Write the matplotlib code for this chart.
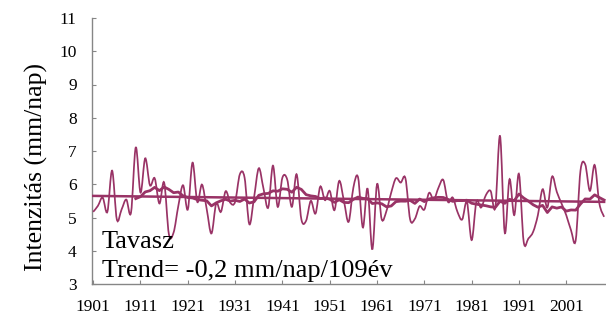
import matplotlib
matplotlib.use("Agg")
import matplotlib.pyplot as plt
from matplotlib.path import Path
from matplotlib.patches import PathPatch
import numpy as np
import pandas as pd

plt.rcParams['font.family'] = ['Liberation Serif', 'DejaVu Serif']

years = list(range(1901, 2010))
values = [
    5.17, 5.35, 5.60, 5.17, 6.41, 4.94, 5.24, 5.54, 5.15, 7.11,   # 1901-1910
    5.75, 6.78, 5.97, 6.18, 5.42, 6.05, 4.50, 4.55, 5.35, 5.97,   # 1911-1920
    5.24, 6.65, 5.47, 5.99, 5.25, 4.52, 5.42, 5.17, 5.79, 5.44,   # 1921-1930
    5.47, 6.30, 6.20, 4.80, 5.60, 6.48, 5.87, 5.30, 6.56, 5.32,   # 1931-1940
    6.20, 6.15, 5.32, 6.30, 4.95, 4.90, 5.50, 5.12, 5.93, 5.52,   # 1941-1950
    5.80, 5.22, 6.10, 5.50, 4.87, 5.90, 6.20, 4.70, 5.87, 4.04,   # 1951-1960
    6.00, 4.94, 5.20, 5.75, 6.18, 6.05, 6.18, 4.94, 4.96, 5.34,   # 1961-1970
    5.24, 5.74, 5.54, 5.90, 6.13, 5.47, 5.60, 5.17, 4.94, 5.47,   # 1971-1980
    4.32, 5.47, 5.30, 5.67, 5.80, 5.30, 7.45, 4.54, 6.15, 5.07,   # 1981-1990
    6.31, 4.27, 4.37, 4.57, 5.07, 5.85, 5.30, 6.23, 5.77, 5.42,   # 1991-2000
    5.07, 4.62, 4.32, 6.40, 6.60, 5.80, 6.58, 5.42, 5.02,         # 2001-2009
]
ma_window = 10
trend_years = [1901, 2009]
trend_values = [5.65, 5.47]
xtick_years = list(range(1901, 2002, 10))
yticks = list(range(3, 12))
season_label = "Tavasz"
trend_label = "Trend= -0,2 mm/nap/109év"
ylabel = "Intenzitás (mm/nap)"

color = '#993366'
axis_gray = '#868686'


def smooth_path(x, y):
    n = len(x)
    verts = [(x[0], y[0])]
    codes = [Path.MOVETO]
    for i in range(n - 1):
        xp, yp = (x[i - 1], y[i - 1]) if i > 0 else (x[i], y[i])
        xn, yn = (x[i + 2], y[i + 2]) if i + 2 < n else (x[i + 1], y[i + 1])
        c1 = (x[i] + (x[i + 1] - xp) / 6.0, y[i] + (y[i + 1] - yp) / 6.0)
        c2 = (x[i + 1] - (xn - x[i]) / 6.0, y[i + 1] - (yn - y[i]) / 6.0)
        verts += [c1, c2, (x[i + 1], y[i + 1])]
        codes += [Path.CURVE4] * 3
    return Path(verts, codes)


fig = plt.figure(figsize=(6.06, 3.2), dpi=100)
ax = fig.add_axes([92 / 606, 36 / 320, 514 / 606, 266 / 320])

# annual values, smoothed line
ax.add_patch(PathPatch(smooth_path(years, values), facecolor='none',
                       edgecolor=color, lw=1.25, zorder=3))

# moving average
ma = pd.Series(values, index=years).rolling(ma_window).mean()
ax.plot(ma.index, ma.values, color=color, lw=2.0, zorder=4)

# linear trend
ax.plot(trend_years, trend_values, color=color, lw=1.8, zorder=4)

ax.set_xlim(1900.75, 2009.4)
ax.set_ylim(3, 11)
ax.set_xticks(xtick_years)
ax.set_xticklabels([str(y) for y in xtick_years])
ax.set_yticks(yticks)

for side in ['top', 'right']:
    ax.spines[side].set_visible(False)
for side in ['left', 'bottom']:
    ax.spines[side].set_color(axis_gray)
    ax.spines[side].set_linewidth(1.0)

ax.tick_params(axis='both', direction='in', length=3, width=0.8,
               color=axis_gray, labelsize=12.5, labelcolor='black')
ax.tick_params(axis='x', pad=11)
ax.tick_params(axis='y', pad=11)

ax.set_ylabel(ylabel, fontsize=18.5)
ax.yaxis.set_label_coords(-0.085, 0.44)

fig.text(102 / 606, (320 - 248) / 320, season_label, fontsize=19,
         ha='left', va='baseline')
fig.text(102 / 606, (320 - 277) / 320, trend_label, fontsize=19,
         ha='left', va='baseline')

fig.savefig('out.png', dpi=100)
